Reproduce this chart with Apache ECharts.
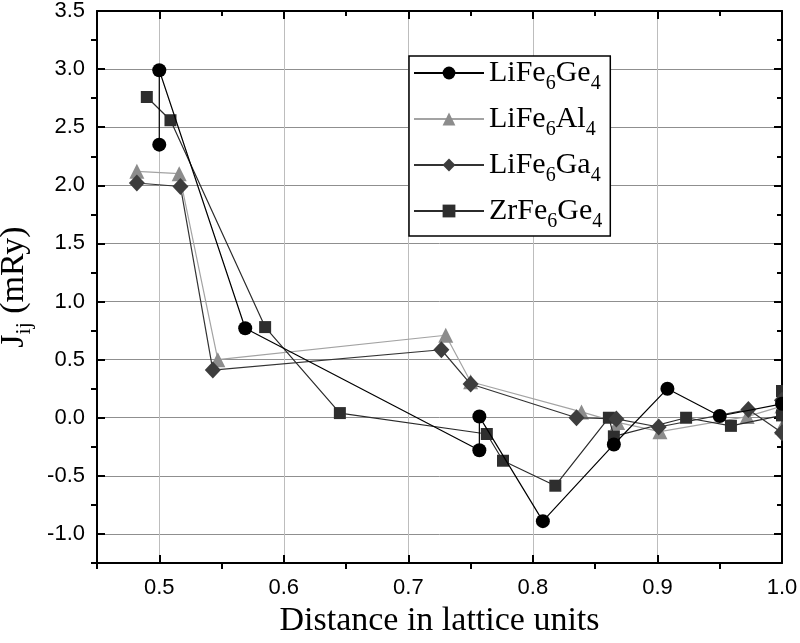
<!DOCTYPE html>
<html>
<head>
<meta charset="utf-8">
<script src="https://cdn.jsdelivr.net/npm/echarts@6/dist/echarts.min.js"></script>
<style>
  html, body { margin: 0; padding: 0; background: #fff; }
  #chart { width: 800px; height: 643px; }
</style>
</head>
<body>
<div id="chart"></div>
<script>
// series names (digits become subscripts)
const names = ["LiFe6Ge4", "LiFe6Al4", "LiFe6Ga4", "ZrFe6Ge4"];

// [distance, Jij] in drawing order
const liFeGe = [[0.5, 2.35], [0.5, 2.99], [0.569, 0.77], [0.757, -0.28], [0.757, 0.01], [0.808, -0.89],
  [0.865, -0.23], [0.908, 0.25], [0.95, 0.015], [1.0, 0.12]];
const liFeAl = [[0.482, 2.12], [0.516, 2.10], [0.547, 0.50], [0.73, 0.71], [0.75, 0.31], [0.839, 0.05],
  [0.868, -0.04], [0.902, -0.12], [0.972, 0.01], [1.0, 0.10], [1.0, -0.08]];
const liFeGa = [[0.482, 2.02], [0.517, 1.99], [0.543, 0.41], [0.7265, 0.585], [0.75, 0.29], [0.835, 0.0],
  [0.867, -0.01], [0.901, -0.08], [0.973, 0.07], [1.0, -0.13], [1.0, 0.15]];
const zrFeGe = [[0.49, 2.76], [0.509, 2.56], [0.585, 0.78], [0.645, 0.04], [0.763, -0.14], [0.776, -0.37],
  [0.818, -0.585], [0.861, 0.0], [0.865, -0.16], [0.923, 0.0], [0.959, -0.07], [1.0, 0.02], [1.0, 0.23]];

// tick positions
const xMajor = [0.5, 0.6, 0.7, 0.8, 0.9, 1.0];
const xMinor = [0.45, 0.55, 0.65, 0.75, 0.85, 0.95];
const yMajor = [-1.0, -0.5, 0.0, 0.5, 1.0, 1.5, 2.0, 2.5, 3.0, 3.5];
const yMinor = [-1.25, -0.75, -0.25, 0.25, 0.75, 1.25, 1.75, 2.25, 2.75, 3.25];

const X_MIN = 0.45, X_MAX = 1.0, Y_MIN = -1.25, Y_MAX = 3.5;

const serif = "Liberation Serif";
const sans = "Liberation Sans";

// chemical formula -> rich text with subscripts
const formula = (s) => s.replace(/([A-Za-z]+)|(\d+)/g, (m, a, d) => (a ? `{n|${a}}` : `{s|${d}}`));

const chart = echarts.init(document.getElementById("chart"));

const axisLine = { show: true, onZero: false, lineStyle: { color: "#000", width: 2 } };
const tickStyle = { color: "#000", width: 2 };

// helper for the plain frame / tick-only axes
const frameAxis = (pos, min, max, ticks, inside, len, withLine) => ({
  type: "value",
  position: pos,
  min, max,
  axisLine: withLine ? axisLine : { show: false, onZero: false },
  axisTick: { show: true, inside, length: len, lineStyle: tickStyle, customValues: ticks },
  axisLabel: { show: false },
  splitLine: { show: false },
});

const option = {
  animation: false,
  backgroundColor: "#fff",
  grid: { left: 97, right: 18, top: 11, bottom: 80, outerBoundsMode: "none", containLabel: false },
  legend: {
    data: names,
    orient: "vertical",
    left: 409,
    top: 56,
    padding: [2, 8, 4, 4],
    itemGap: 10,
    itemWidth: 70,
    itemHeight: 16,
    borderColor: "#000",
    borderWidth: 1.5,
    backgroundColor: "#fff",
    formatter: formula,
    textStyle: {
      color: "#000",
      fontFamily: serif,
      fontSize: 30,
      rich: {
        n: { fontFamily: serif, fontSize: 30, color: "#000" },
        s: { fontFamily: serif, fontSize: 20, color: "#000", padding: [22, 0, 0, 0] },
      },
    },
  },
  xAxis: [
    {
      type: "value",
      position: "bottom",
      min: X_MIN, max: X_MAX,
      axisLine,
      axisTick: { show: true, inside: true, length: 8, lineStyle: tickStyle, customValues: xMajor },
      axisLabel: {
        customValues: xMajor,
        formatter: (v) => v.toFixed(1),
        color: "#000", fontFamily: sans, fontSize: 22, margin: 14,
      },
      splitLine: { show: true, lineStyle: { color: "#bdbdbd", width: 1 } },
      name: "Distance in lattice units",
      nameLocation: "middle",
      nameGap: 38,
      nameTextStyle: { color: "#000", fontFamily: serif, fontSize: 34 },
    },
    frameAxis("bottom", X_MIN, X_MAX, xMinor, false, 6, false),
    frameAxis("top", X_MIN, X_MAX, xMajor, true, 8, true),
    frameAxis("top", X_MIN, X_MAX, xMinor, true, 5, false),
  ],
  yAxis: [
    {
      type: "value",
      position: "left",
      min: Y_MIN, max: Y_MAX,
      axisLine,
      axisTick: { show: true, inside: true, length: 8, lineStyle: tickStyle, customValues: yMajor },
      axisLabel: {
        customValues: yMajor,
        formatter: (v) => v.toFixed(1),
        color: "#000", fontFamily: sans, fontSize: 22, margin: 12,
      },
      splitLine: { show: true, lineStyle: { color: "#8f8f8f", width: 1 } },
      name: "{a|J}{b|ij}{a| (mRy)}",
      nameLocation: "middle",
      nameGap: 62,
      nameTextStyle: {
        color: "#000", fontFamily: serif, fontSize: 34,
        rich: {
          a: { fontFamily: serif, fontSize: 34, color: "#000" },
          b: { fontFamily: serif, fontSize: 22, color: "#000", padding: [20, 0, 0, 0] },
        },
      },
    },
    frameAxis("left", Y_MIN, Y_MAX, yMinor, false, 6, false),
    frameAxis("right", Y_MIN, Y_MAX, yMajor, true, 8, true),
    frameAxis("right", Y_MIN, Y_MAX, yMinor, true, 5, false),
  ],
  graphic: [
    // symbols sitting on x = 1.0 are cut by the frame in the original
    { type: "rect", right: 0, top: 0, z: 100, shape: { width: 17, height: 563 }, style: { fill: "#fff" } },
  ],
  series: [
    {
      name: names[3], type: "line", data: zrFeGe, symbol: "rect", symbolSize: 12, z: 3,
      lineStyle: { color: "#2b2b2b", width: 1.2 }, itemStyle: { color: "#2e2e2e" },
    },
    {
      name: names[2], type: "line", data: liFeGa, symbol: "diamond", symbolSize: [16, 17], z: 3,
      lineStyle: { color: "#333", width: 1.2 }, itemStyle: { color: "#3d3d3d" },
    },
    {
      name: names[1], type: "line", data: liFeAl, symbol: "triangle", symbolSize: 15, z: 2,
      lineStyle: { color: "#a3a3a3", width: 1.2 }, itemStyle: { color: "#8c8c8c" },
    },
    {
      name: names[0], type: "line", data: liFeGe, symbol: "circle", symbolSize: 14, z: 4,
      lineStyle: { color: "#000", width: 1.2 }, itemStyle: { color: "#000" },
    },
  ],
};

chart.setOption(option);
</script>
</body>
</html>
